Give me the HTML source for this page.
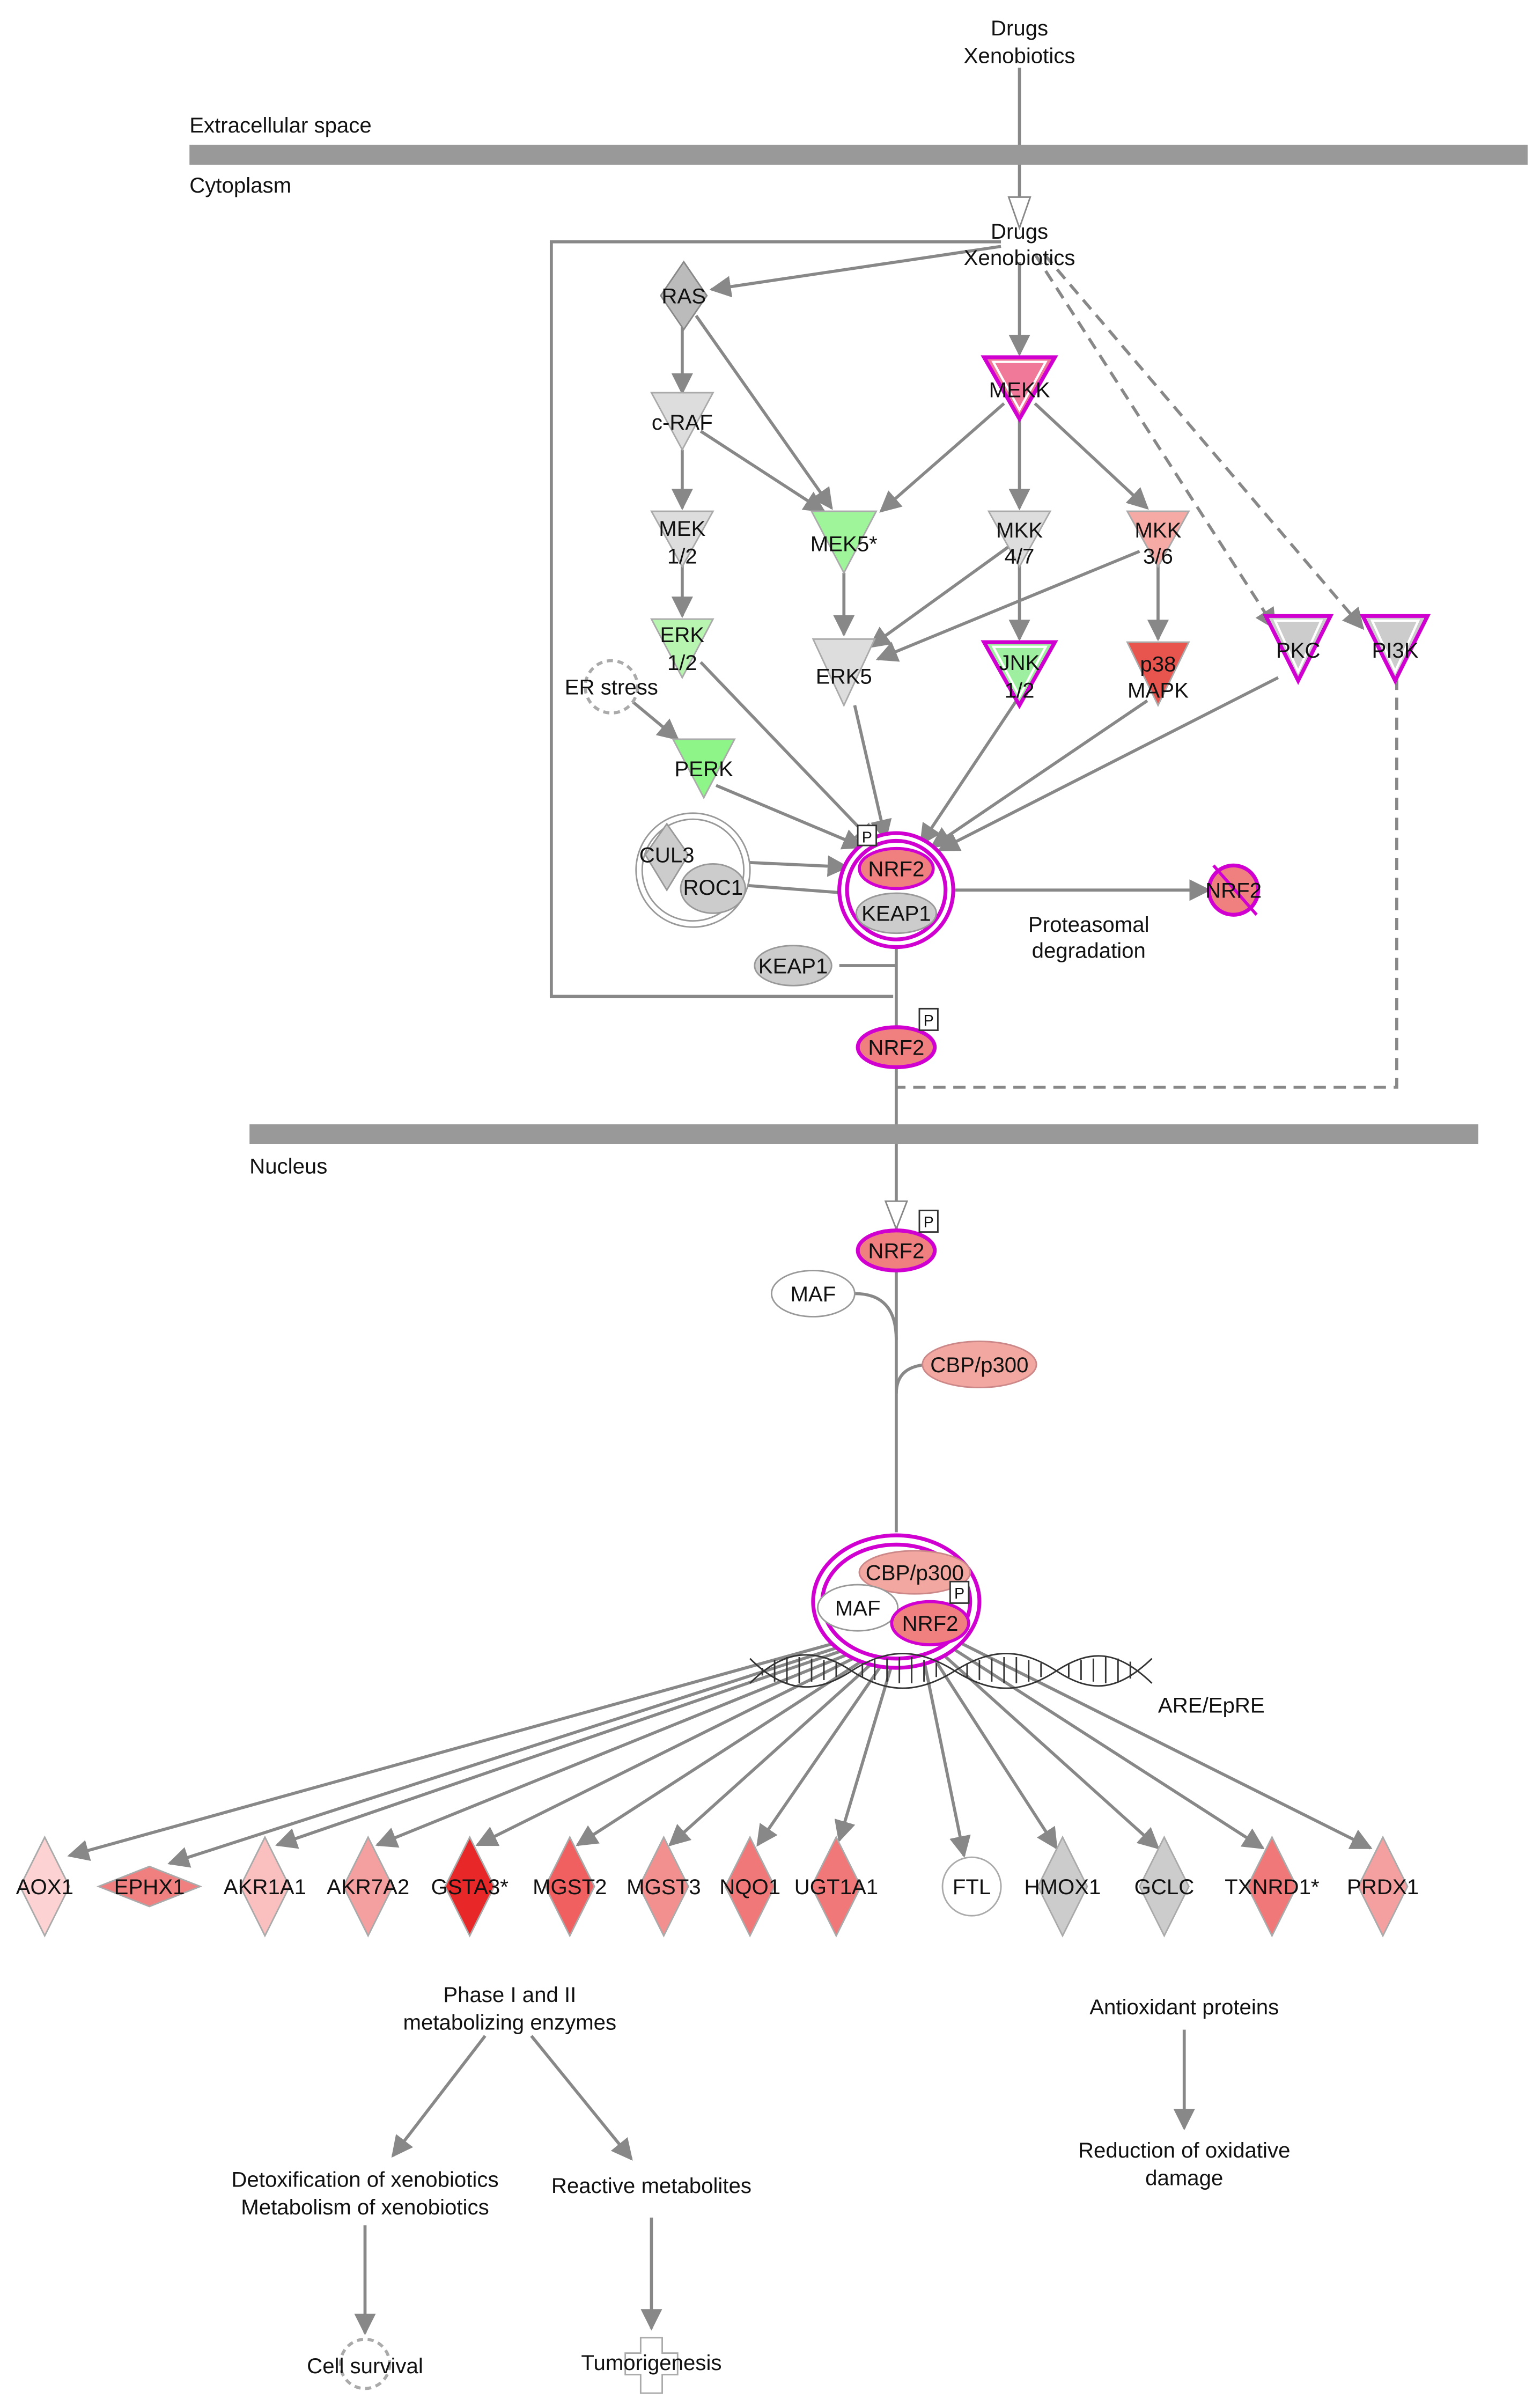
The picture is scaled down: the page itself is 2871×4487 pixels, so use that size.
<!DOCTYPE html>
<html><head><meta charset="utf-8"><style>
html,body{margin:0;padding:0;background:#fff}
svg{display:block}
text{font-family:"Liberation Sans",Arial,sans-serif;font-size:14px;fill:#111;text-anchor:middle}
</style></head><body>
<svg width="2871" height="4487" viewBox="0 0 1000 1563" xmlns="http://www.w3.org/2000/svg">
<defs>
<marker id="a" viewBox="0 0 10 10" refX="9" refY="5" markerWidth="7" markerHeight="7" orient="auto"><path d="M0,0L10,5L0,10z" fill="#888"/></marker>
<marker id="o" viewBox="0 0 10 10" refX="9" refY="5" markerWidth="7" markerHeight="7" orient="auto"><path d="M0,1L9,5L0,9" fill="none" stroke="#888" stroke-width="1.5"/></marker>
</defs>
<g stroke="#888" stroke-width="2" fill="none">
<line x1="662" y1="44" x2="662" y2="128"/>
<path d="M650,157H358V647H580"/>
<line x1="582" y1="613" x2="582" y2="995"/>
<path d="M907,440V706H582" stroke-dasharray="8,5"/>
<line x1="672" y1="165" x2="828" y2="408" stroke-dasharray="8,5" marker-end="url(#a)"/>
<line x1="678" y1="165" x2="885" y2="408" stroke-dasharray="8,5" marker-end="url(#a)"/>
<g marker-end="url(#a)">
<line x1="650" y1="160" x2="462" y2="188"/>
<line x1="662" y1="170" x2="662" y2="230"/>
<line x1="443" y1="212" x2="443" y2="255"/>
<line x1="452" y1="205" x2="540" y2="330"/>
<line x1="443" y1="292" x2="443" y2="330"/>
<line x1="455" y1="280" x2="535" y2="332"/>
<line x1="652" y1="262" x2="572" y2="332"/>
<line x1="662" y1="265" x2="662" y2="330"/>
<line x1="672" y1="262" x2="745" y2="330"/>
<line x1="443" y1="367" x2="443" y2="400"/>
<line x1="548" y1="372" x2="548" y2="412"/>
<line x1="662" y1="367" x2="662" y2="415"/>
<line x1="655" y1="355" x2="565" y2="420"/>
<line x1="740" y1="358" x2="570" y2="428"/>
<line x1="752" y1="367" x2="752" y2="415"/>
<line x1="455" y1="430" x2="568" y2="548"/>
<line x1="555" y1="458" x2="575" y2="545"/>
<line x1="660" y1="455" x2="598" y2="548"/>
<line x1="745" y1="455" x2="605" y2="550"/>
<line x1="830" y1="440" x2="610" y2="552"/>
<line x1="410" y1="455" x2="440" y2="480"/>
<line x1="465" y1="510" x2="560" y2="550"/>
<line x1="485" y1="560" x2="550" y2="563"/>
<line x1="618" y1="578" x2="785" y2="578"/>
<line x1="769" y1="1318" x2="769" y2="1382"/>
<line x1="315" y1="1322" x2="255" y2="1400"/>
<line x1="345" y1="1322" x2="410" y2="1402"/>
<line x1="237" y1="1445" x2="237" y2="1515"/>
<line x1="423" y1="1440" x2="423" y2="1512"/>
<line x1="560" y1="1062" x2="45" y2="1205"/>
<line x1="562" y1="1064" x2="110" y2="1210"/>
<line x1="564" y1="1066" x2="180" y2="1198"/>
<line x1="566" y1="1068" x2="245" y2="1198"/>
<line x1="568" y1="1070" x2="310" y2="1198"/>
<line x1="570" y1="1072" x2="375" y2="1198"/>
<line x1="573" y1="1074" x2="435" y2="1198"/>
<line x1="576" y1="1076" x2="492" y2="1198"/>
<line x1="580" y1="1078" x2="545" y2="1195"/>
<line x1="600" y1="1078" x2="626" y2="1205"/>
<line x1="606" y1="1076" x2="686" y2="1200"/>
<line x1="612" y1="1074" x2="752" y2="1200"/>
<line x1="618" y1="1070" x2="820" y2="1200"/>
<line x1="622" y1="1066" x2="890" y2="1200"/>
</g>
<line x1="485" y1="575" x2="550" y2="580"/>
<line x1="545" y1="627" x2="582" y2="627"/>
<path d="M555,840Q582,840 582,870"/>
<path d="M582,905Q582,886 605,886"/>
</g>
<path d="M655,128L662,148L669,128z" fill="#fff" stroke="#888"/>
<path d="M575,780L582,798L589,780z" fill="#fff" stroke="#888"/>
<rect x="123" y="94" width="869" height="13" fill="#999"/>
<rect x="162" y="730" width="798" height="13" fill="#999"/>
<text x="662" y="23">Drugs</text><text x="662" y="41">Xenobiotics</text>
<text x="123" y="86" style="text-anchor:start">Extracellular space</text>
<text x="123" y="125" style="text-anchor:start">Cytoplasm</text>
<text x="162" y="762" style="text-anchor:start">Nucleus</text>
<text x="662" y="155">Drugs</text><text x="662" y="172">Xenobiotics</text>
<!-- RAS -->
<path d="M444,170L459,192L444,214L429,192z" fill="#bbb" stroke="#888"/>
<text x="444" y="197">RAS</text>
<!-- triangles -->
<path d="M423,255H463L443,292z" fill="#ddd" stroke="#aaa"/><text x="443" y="279">c-RAF</text>
<path d="M423,332H463L443,368z" fill="#ddd" stroke="#aaa"/><text x="443" y="348">MEK</text><text x="443" y="366">1/2</text>
<path d="M423,402H463L443,440z" fill="#b8f5b0" stroke="#aaa"/><text x="443" y="417">ERK</text><text x="443" y="435">1/2</text>
<path d="M527,332H569L548,372z" fill="#9ef59a" stroke="#aaa"/><text x="548" y="358">MEK5*</text>
<path d="M528,415H568L548,458z" fill="#ddd" stroke="#aaa"/><text x="548" y="444">ERK5</text>
<path d="M642,332H682L662,368z" fill="#ddd" stroke="#aaa"/><text x="662" y="349">MKK</text><text x="662" y="366">4/7</text>
<path d="M732,332H772L752,368z" fill="#f5aaa5" stroke="#aaa"/><text x="752" y="349">MKK</text><text x="752" y="366">3/6</text>
<path d="M732,417H772L752,458z" fill="#e8544e" stroke="#aaa"/><text x="752" y="436">p38</text><text x="752" y="453">MAPK</text>
<path d="M437,480H477L457,518z" fill="#8ef588" stroke="#aaa"/><text x="457" y="504">PERK</text>
<g stroke="#d000d0" stroke-width="2.5">
<path d="M639,232H685L662,272z" fill="#f07898"/>
<path d="M639,417H685L662,458z" fill="#9ef0a0"/>
<path d="M822,400H864L843,442z" fill="#ccc"/>
<path d="M885,400H927L906,442z" fill="#ccc"/>
</g>
<g fill="none" stroke="#fff" stroke-width="1.5">
<path d="M645,235H679L662,266z"/><path d="M645,420H679L662,452z"/><path d="M828,403H858L843,436z"/><path d="M891,403H921L906,436z"/>
</g>
<text x="662" y="258">MEKK</text>
<text x="662" y="435">JNK</text><text x="662" y="453">1/2</text>
<text x="843" y="427">PKC</text><text x="906" y="427">PI3K</text>
<!-- ER stress gear -->
<circle cx="397" cy="446" r="17" fill="#fff" stroke="#aaa" stroke-dasharray="4,3" stroke-width="2"/>
<text x="397" y="451">ER stress</text>
<!-- CUL3/ROC1 -->
<circle cx="450" cy="565" r="37" fill="#fff" stroke="#999"/>
<circle cx="450" cy="565" r="33" fill="#fff" stroke="#999"/>
<path d="M433,535L447,555L433,578L419,555z" fill="#ccc" stroke="#999"/>
<ellipse cx="463" cy="577" rx="21" ry="16" fill="#ccc" stroke="#999"/>
<text x="433" y="560">CUL3</text><text x="463" y="581">ROC1</text>
<!-- NRF2 KEAP1 complex -->
<circle cx="582" cy="578" r="37" fill="#fff" stroke="#d000d0" stroke-width="2.5"/>
<circle cx="582" cy="578" r="32" fill="#fff" stroke="#d000d0" stroke-width="2.5"/>
<ellipse cx="582" cy="564" rx="24" ry="13" fill="#f08080" stroke="#d000d0" stroke-width="2"/>
<ellipse cx="582" cy="593" rx="26" ry="13" fill="#ccc" stroke="#999"/>
<text x="582" y="569">NRF2</text><text x="582" y="598">KEAP1</text>
<rect x="557" y="536" width="12" height="13" fill="#fff" stroke="#333"/><text x="563" y="547" style="font-size:10px">P</text>
<!-- degraded NRF2 -->
<circle cx="801" cy="578" r="16" fill="#f08080" stroke="#d000d0" stroke-width="2.5"/>
<path d="M788,562L816,594" stroke="#d000d0" stroke-width="2"/>
<text x="801" y="583">NRF2</text>
<text x="707" y="605">Proteasomal</text><text x="707" y="622">degradation</text>
<ellipse cx="515" cy="627" rx="25" ry="13" fill="#ccc" stroke="#999"/><text x="515" y="632">KEAP1</text>
<!-- NRF2 cyto -->
<ellipse cx="582" cy="680" rx="25" ry="13" fill="#f08080" stroke="#d000d0" stroke-width="2.5"/><text x="582" y="685">NRF2</text>
<rect x="597" y="655" width="12" height="14" fill="#fff" stroke="#333"/><text x="603" y="666" style="font-size:10px">P</text>
<!-- NRF2 nuc -->
<ellipse cx="582" cy="812" rx="25" ry="13" fill="#f08080" stroke="#d000d0" stroke-width="2.5"/><text x="582" y="817">NRF2</text>
<rect x="597" y="786" width="12" height="14" fill="#fff" stroke="#333"/><text x="603" y="797" style="font-size:10px">P</text>
<ellipse cx="528" cy="840" rx="27" ry="15" fill="#fff" stroke="#999"/><text x="528" y="845">MAF</text>
<ellipse cx="636" cy="886" rx="37" ry="15" fill="#f2a8a0" stroke="#c88"/><text x="636" y="891">CBP/p300</text>
<!-- nuclear complex -->
<ellipse cx="582" cy="1040" rx="54" ry="43" fill="#fff" stroke="#d000d0" stroke-width="2.5"/>
<ellipse cx="582" cy="1040" rx="48" ry="37" fill="#fff" stroke="#d000d0" stroke-width="2.5"/>
<ellipse cx="594" cy="1021" rx="36" ry="14" fill="#f2a8a0" stroke="#c88"/><text x="594" y="1026">CBP/p300</text>
<ellipse cx="557" cy="1044" rx="26" ry="15" fill="#fff" stroke="#999"/><text x="557" y="1049">MAF</text>
<ellipse cx="604" cy="1054" rx="25" ry="14" fill="#f08080" stroke="#d000d0" stroke-width="2"/><text x="604" y="1059">NRF2</text>
<rect x="617" y="1027" width="12" height="14" fill="#fff" stroke="#333"/><text x="623" y="1038" style="font-size:10px">P</text>
<!-- DNA -->
<g fill="none" stroke="#333" stroke-width="1">
<path d="M487,1093 C510,1070 530,1070 553,1085 S596,1100 620,1085 S663,1070 686,1085 S726,1098 748,1077"/>
<path d="M487,1077 C510,1100 530,1100 553,1085 S596,1070 620,1085 S663,1100 686,1085 S726,1072 748,1093"/>
<path d="M495,1083v5M503,1078v14M511,1076v17M519,1076v17M527,1077v15M535,1078v13M543,1080v9M560,1080v9M568,1078v13M576,1077v15M584,1076v17M592,1076v17M600,1078v14M608,1080v9M628,1080v9M636,1078v13M644,1077v15M652,1076v17M660,1076v17M668,1078v14M676,1080v9M694,1080v9M702,1078v13M710,1077v15M718,1076v17M726,1077v15M734,1079v11"/>
</g>
<text x="752" y="1112" style="text-anchor:start">ARE/EpRE</text>
<!-- targets -->
<g stroke="#aaa">
<path d="M29,1193L45,1225L29,1257L13,1225z" fill="#fcd2d2"/>
<path d="M97,1212L130,1225L97,1238L64,1225z" fill="#f08080"/>
<path d="M172,1193L188,1225L172,1257L156,1225z" fill="#fac0c0"/>
<path d="M239,1193L255,1225L239,1257L223,1225z" fill="#f5a0a0"/>
<path d="M305,1193L321,1225L305,1257L289,1225z" fill="#e82828"/>
<path d="M370,1193L386,1225L370,1257L354,1225z" fill="#f06060"/>
<path d="M431,1193L447,1225L431,1257L415,1225z" fill="#f29090"/>
<path d="M487,1193L503,1225L487,1257L471,1225z" fill="#f07878"/>
<path d="M543,1193L559,1225L543,1257L527,1225z" fill="#f07878"/>
<circle cx="631" cy="1225" r="19" fill="#fff"/>
<path d="M690,1193L706,1225L690,1257L674,1225z" fill="#ccc"/>
<path d="M756,1193L772,1225L756,1257L740,1225z" fill="#ccc"/>
<path d="M826,1193L842,1225L826,1257L810,1225z" fill="#f07878"/>
<path d="M898,1193L914,1225L898,1257L882,1225z" fill="#f5a0a0"/>
</g>
<text x="29" y="1230">AOX1</text><text x="97" y="1230">EPHX1</text><text x="172" y="1230">AKR1A1</text>
<text x="239" y="1230">AKR7A2</text><text x="305" y="1230">GSTA3*</text><text x="370" y="1230">MGST2</text>
<text x="431" y="1230">MGST3</text><text x="487" y="1230">NQO1</text><text x="543" y="1230">UGT1A1</text>
<text x="631" y="1230">FTL</text><text x="690" y="1230">HMOX1</text><text x="756" y="1230">GCLC</text>
<text x="826" y="1230">TXNRD1*</text><text x="898" y="1230">PRDX1</text>
<text x="331" y="1300">Phase I and II</text><text x="331" y="1318">metabolizing enzymes</text>
<text x="769" y="1308">Antioxidant proteins</text>
<text x="769" y="1401">Reduction of oxidative</text><text x="769" y="1419">damage</text>
<text x="237" y="1420">Detoxification of xenobiotics</text><text x="237" y="1438">Metabolism of xenobiotics</text>
<text x="423" y="1424">Reactive metabolites</text>
<circle cx="237" cy="1535" r="16" fill="#fff" stroke="#aaa" stroke-dasharray="4,3" stroke-width="2"/>
<path d="M416,1518h14v10h10v14h-10v12h-14v-12h-10v-14h10z" fill="#fff" stroke="#aaa"/>
<text x="237" y="1541">Cell survival</text><text x="423" y="1539">Tumorigenesis</text>
</svg>
</body></html>
